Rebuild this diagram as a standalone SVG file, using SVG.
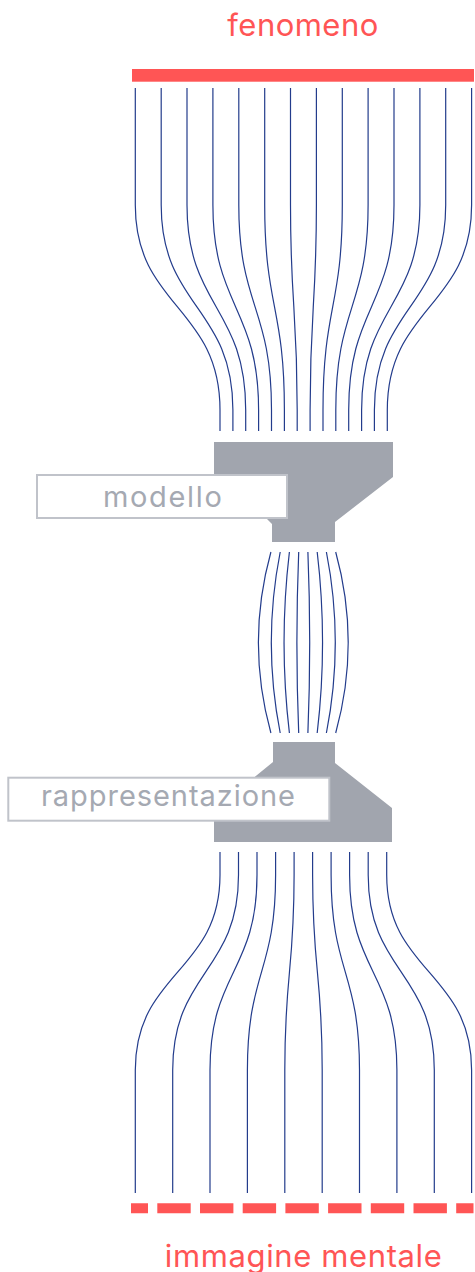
<svg xmlns="http://www.w3.org/2000/svg" width="475" height="1272" viewBox="0 0 475 1272">
  <style>
    .title { font-family: Inter, "Liberation Sans", sans-serif; font-size: 31px; fill: #ff5555; text-anchor: middle; }
    .label { font-family: Inter, "Liberation Sans", sans-serif; font-size: 29px; fill: #a5a9b2; text-anchor: middle; }
    .block { fill: #a1a5ae; }
    .tag { fill: #ffffff; stroke: #c0c3ca; stroke-width: 2; }
    .flow { fill: none; stroke: #233c8c; stroke-width: 1.2; }
  </style>

  <!-- source: solid bar with title -->
  <g id="fenomeno">
    <text class="title" x="302.8" y="35.7" textLength="151" lengthAdjust="spacing">fenomeno</text>
    <rect x="132" y="69" width="342" height="12.7" fill="#ff5555"/>
  </g>

  <!-- all flow lines -->
  <g id="connectors" class="flow">
    <!-- 14 lines narrowing into the model -->
    <path d="M135.3 88 V205 C135.3 307, 220.0 307, 220.0 410 V431"/>
    <path d="M161.2 88 V205 C161.2 307, 232.9 307, 232.9 410 V431"/>
    <path d="M187.0 88 V205 C187.0 307, 245.7 307, 245.7 410 V431"/>
    <path d="M212.9 88 V205 C212.9 307, 258.6 307, 258.6 410 V431"/>
    <path d="M238.8 88 V205 C238.8 307, 271.5 307, 271.5 410 V431"/>
    <path d="M264.7 88 V205 C264.7 307, 284.4 307, 284.4 410 V431"/>
    <path d="M290.5 88 V205 C290.5 307, 297.2 307, 297.2 410 V431"/>
    <path d="M316.4 88 V205 C316.4 307, 310.1 307, 310.1 410 V431"/>
    <path d="M342.3 88 V205 C342.3 307, 323.0 307, 323.0 410 V431"/>
    <path d="M368.1 88 V205 C368.1 307, 335.8 307, 335.8 410 V431"/>
    <path d="M394.0 88 V205 C394.0 307, 348.7 307, 348.7 410 V431"/>
    <path d="M419.9 88 V205 C419.9 307, 361.6 307, 361.6 410 V431"/>
    <path d="M445.7 88 V205 C445.7 307, 374.4 307, 374.4 410 V431"/>
    <path d="M471.6 88 V205 C471.6 307, 387.3 307, 387.3 410 V431"/>

    <!-- 8 bowed lines between model and representation -->
    <path d="M270.9 552 C254.3 612, 254.3 673, 270.9 733"/>
    <path d="M280.2 552 C268.4 612, 268.4 673, 280.2 733"/>
    <path d="M289.4 552 C282.3 612, 282.3 673, 289.4 733"/>
    <path d="M298.7 552 C296.3 612, 296.3 673, 298.7 733"/>
    <path d="M307.9 552 C310.3 612, 310.3 673, 307.9 733"/>
    <path d="M317.2 552 C324.3 612, 324.3 673, 317.2 733"/>
    <path d="M326.4 552 C338.2 612, 338.2 673, 326.4 733"/>
    <path d="M335.7 552 C352.3 612, 352.3 673, 335.7 733"/>

    <!-- 10 lines widening toward the mental image -->
    <path d="M220.0 852 V875 C220.0 972, 135.3 972, 135.3 1070 V1193"/>
    <path d="M238.5 852 V875 C238.5 972, 172.7 972, 172.7 1070 V1193"/>
    <path d="M257.0 852 V875 C257.0 972, 210.0 972, 210.0 1070 V1193"/>
    <path d="M275.6 852 V875 C275.6 972, 247.4 972, 247.4 1070 V1193"/>
    <path d="M294.1 852 V875 C294.1 972, 284.8 972, 284.8 1070 V1193"/>
    <path d="M312.6 852 V875 C312.6 972, 322.2 972, 322.2 1070 V1193"/>
    <path d="M331.1 852 V875 C331.1 972, 359.5 972, 359.5 1070 V1193"/>
    <path d="M349.6 852 V875 C349.6 972, 396.9 972, 396.9 1070 V1193"/>
    <path d="M368.2 852 V875 C368.2 972, 434.3 972, 434.3 1070 V1193"/>
    <path d="M386.7 852 V875 C386.7 972, 471.6 972, 471.6 1070 V1193"/>
  </g>

  <!-- funnel block: model -->
  <g id="modello">
    <polygon class="block" points="214,442 393,442 393,477 335,522 335,542 272,542 272,524 267,519 214,519"/>
    <rect class="tag" x="37" y="475" width="250" height="43"/>
    <text class="label" x="162.4" y="506.7" textLength="119" lengthAdjust="spacing">modello</text>
  </g>

  <!-- funnel block: representation -->
  <g id="rappresentazione">
    <polygon class="block" points="273,742 335,742 335,763 392,808 392,842 214,842 214,810 245,785 273,762"/>
    <rect class="tag" x="8.3" y="777.7" width="321" height="43"/>
    <text class="label" x="168" y="806" textLength="254" lengthAdjust="spacing">rappresentazione</text>
  </g>

  <!-- target: dashed bar with title -->
  <g id="immagine-mentale">
    <line x1="131" y1="1208.3" x2="473.5" y2="1208.3" stroke="#ff5555" stroke-width="10" stroke-dasharray="33.4 9.3" stroke-dashoffset="16.4"/>
    <text class="title" x="303.3" y="1266.7" textLength="277" lengthAdjust="spacing">immagine mentale</text>
  </g>
</svg>
